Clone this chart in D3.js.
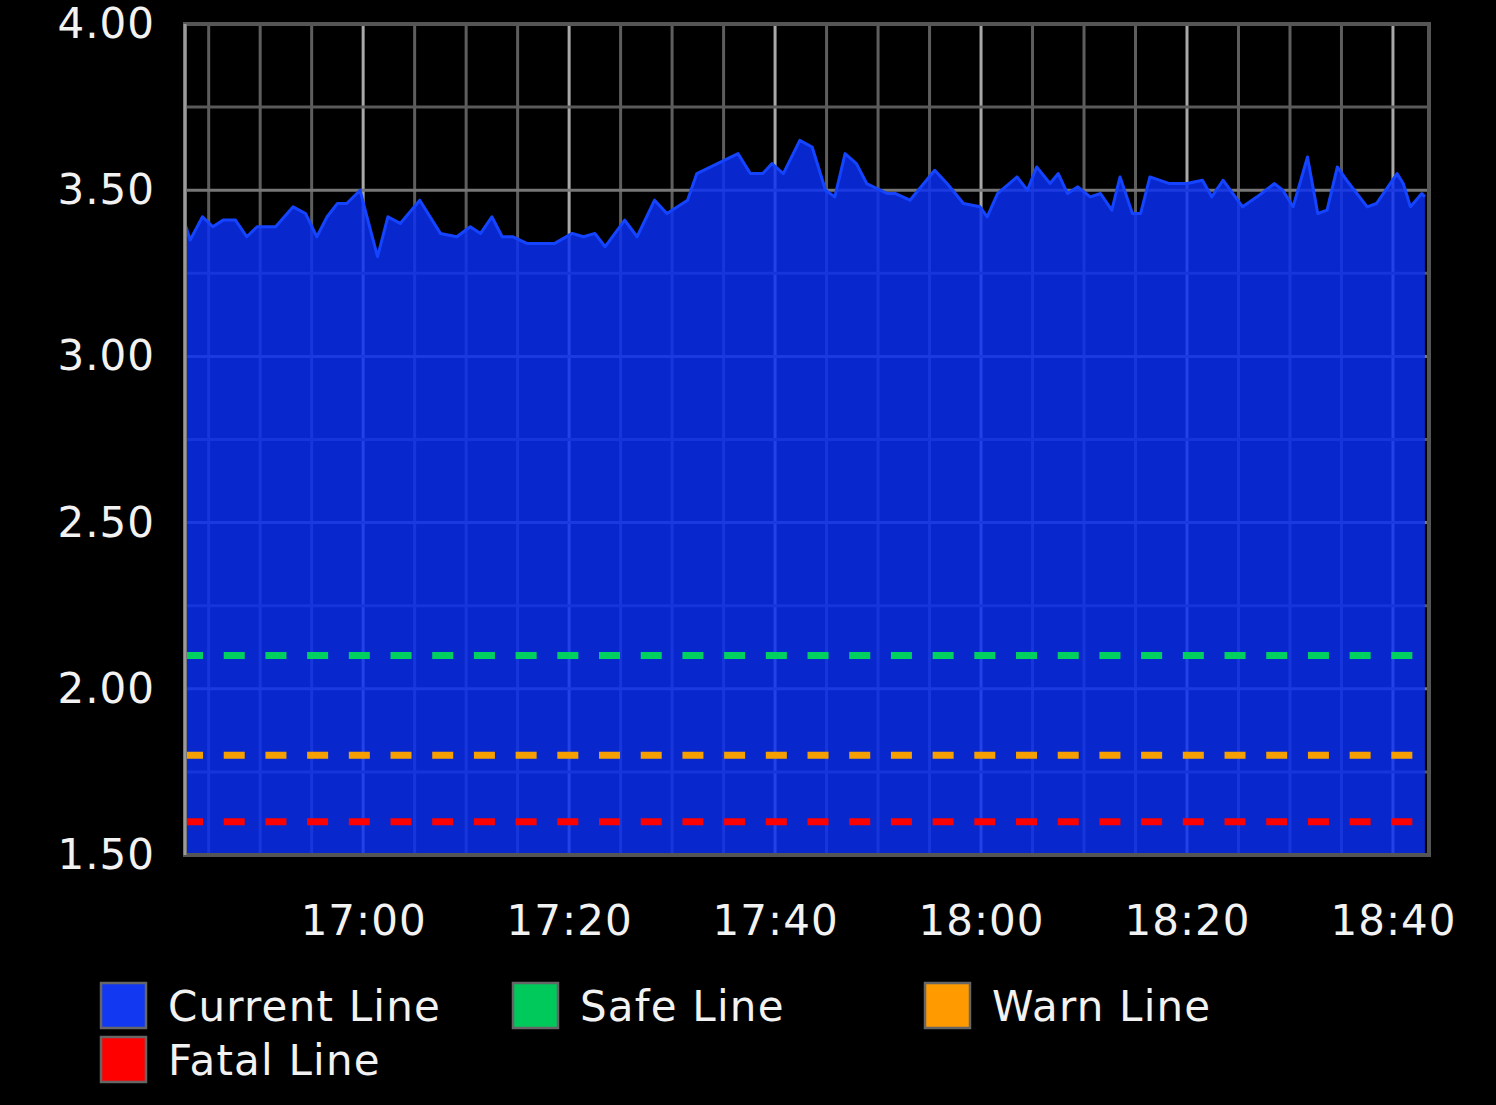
<!DOCTYPE html>
<html>
<head>
<meta charset="utf-8">
<script src="https://cdn.jsdelivr.net/npm/d3@7"></script>
<style>
  html, body { margin: 0; padding: 0; background: #000; }
  svg { display: block; font-family: "DejaVu Sans", sans-serif; }
</style>
</head>
<body>
<div id="chart"></div>
<script>
// sample times, minutes after 16:00
var minutes = [
  42.8, 43.2, 44.4, 45.4, 46.4, 47.6, 48.7, 49.7, 51.5, 53.2,
  54.4, 55.5, 56.5, 57.5, 58.4, 59.7, 60.2, 61.4, 62.4, 63.6,
  65.5, 67.5, 69.1, 70.4, 71.4, 72.5, 73.5, 74.5, 75.9, 78.6,
  80.3, 81.4, 82.5, 83.5, 85.4, 86.6, 88.3, 89.5, 91.5, 92.4,
  94.4, 96.4, 97.6, 98.8, 99.7, 100.8, 102.4, 103.6, 104.9, 105.8,
  106.8, 107.9, 108.9, 110.9, 111.7, 113.1, 115.5, 116.7, 118.3, 119.9,
  120.6, 121.6, 123.5, 124.5, 125.4, 126.7, 127.5, 128.4, 129.4, 130.6,
  131.6, 132.7, 133.5, 134.7, 135.5, 136.4, 138.3, 140.0, 141.5, 142.4,
  143.5, 145.4, 146.8, 148.5, 149.3, 150.3, 151.7, 152.7, 153.6, 154.6,
  155.5, 157.5, 158.4, 160.4, 161.0, 161.7, 162.8, 163.1
];

var currentValues = [
  3.39, 3.35, 3.42, 3.39, 3.41, 3.41, 3.36, 3.39, 3.39, 3.45,
  3.43, 3.36, 3.42, 3.46, 3.46, 3.50, 3.44, 3.30, 3.42, 3.40,
  3.47, 3.37, 3.36, 3.39, 3.37, 3.42, 3.36, 3.36, 3.34, 3.34,
  3.37, 3.36, 3.37, 3.33, 3.41, 3.36, 3.47, 3.43, 3.47, 3.55,
  3.58, 3.61, 3.55, 3.55, 3.58, 3.55, 3.65, 3.63, 3.50, 3.48,
  3.61, 3.58, 3.52, 3.49, 3.49, 3.47, 3.56, 3.52, 3.46, 3.45,
  3.42, 3.49, 3.54, 3.50, 3.57, 3.52, 3.55, 3.49, 3.51, 3.48,
  3.49, 3.44, 3.54, 3.43, 3.43, 3.54, 3.52, 3.52, 3.53, 3.48,
  3.53, 3.45, 3.48, 3.52, 3.50, 3.45, 3.60, 3.43, 3.44, 3.57,
  3.53, 3.45, 3.46, 3.55, 3.52, 3.45, 3.49, 3.48
];

var thresholdNames = ['Safe Line', 'Warn Line', 'Fatal Line'];
var thresholdValues = [2.10, 1.80, 1.60];
var thresholdColors = ['#00d060', '#f5a000', '#ff0000'];

var legendNames = ['Current Line', 'Safe Line', 'Warn Line', 'Fatal Line'];
var legendColors = ['#1238f2', '#00c95c', '#ff9a00', '#ff0000'];

var yTicks = [1.50, 2.00, 2.50, 3.00, 3.50, 4.00];
var yGrid = [1.50, 1.75, 2.00, 2.25, 2.50, 2.75, 3.00, 3.25, 3.50, 3.75, 4.00];
var timeDomain = [42.7, 163.5];

var base = new Date(2020, 0, 1, 16, 0, 0);
function toDate(m) { return new Date(base.getTime() + m * 60000); }

var width = 1496, height = 1105;
var plotLeft = 185, plotRight = 1429, plotTop = 24, plotBottom = 855;

var svg = d3.select('#chart').append('svg')
  .attr('width', width).attr('height', height);

svg.append('rect').attr('width', width).attr('height', height).attr('fill', '#000');

var x = d3.scaleTime().domain(timeDomain.map(toDate)).range([plotLeft, plotRight]);
var y = d3.scaleLinear().domain([1.5, 4.0]).range([plotBottom, plotTop]);

var data = minutes.map(function(m, i) { return { t: toDate(m), v: currentValues[i] }; });

// grid
var grid = svg.append('g');
var minorTimes = d3.timeMinute.every(5).range(x.domain()[0], x.domain()[1]);
grid.selectAll('line.v').data(minorTimes).enter().append('line')
  .attr('class', 'v')
  .attr('x1', function(d) { return x(d); }).attr('x2', function(d) { return x(d); })
  .attr('y1', plotTop).attr('y2', plotBottom)
  .attr('stroke', function(d) { return d.getMinutes() % 20 === 0 ? '#a8a8a8' : '#5e5e5e'; })
  .attr('stroke-width', 3);
grid.selectAll('line.h').data(yGrid).enter().append('line')
  .attr('class', 'h')
  .attr('x1', plotLeft).attr('x2', plotRight)
  .attr('y1', function(d) { return y(d); }).attr('y2', function(d) { return y(d); })
  .attr('stroke', function(d) { return Math.round(d * 100) % 50 === 0 ? '#767676' : '#5a5a5a'; })
  .attr('stroke-width', 3);

// current area
var area = d3.area()
  .x(function(d) { return x(d.t); })
  .y0(y(1.5))
  .y1(function(d) { return y(d.v); });
svg.append('path').datum(data)
  .attr('d', area)
  .attr('fill', '#0a30f4')
  .attr('fill-opacity', 0.84);

var line = d3.line()
  .x(function(d) { return x(d.t); })
  .y(function(d) { return y(d.v); });
svg.append('path').datum(data)
  .attr('d', line)
  .attr('fill', 'none')
  .attr('stroke', '#1444ff')
  .attr('stroke-width', 3)
  .attr('stroke-linejoin', 'round');

// threshold lines
var t0 = data[0].t, t1 = data[data.length - 1].t;
svg.selectAll('line.threshold').data(thresholdValues).enter().append('line')
  .attr('class', 'threshold')
  .attr('x1', x(t0)).attr('x2', x(t1))
  .attr('y1', function(d) { return y(d); }).attr('y2', function(d) { return y(d); })
  .attr('stroke', function(d, i) { return thresholdColors[i]; })
  .attr('stroke-width', 7)
  .attr('stroke-dasharray', '21,20.7')
  .attr('stroke-dashoffset', 4);

// frame
svg.append('rect')
  .attr('x', plotLeft).attr('y', plotTop)
  .attr('width', plotRight - plotLeft).attr('height', plotBottom - plotTop)
  .attr('fill', 'none').attr('stroke', '#555').attr('stroke-width', 4);
svg.append('line')
  .attr('x1', plotLeft).attr('x2', plotLeft).attr('y1', plotTop).attr('y2', plotBottom)
  .attr('stroke', '#9a9a9a').attr('stroke-width', 3);

// axes
var xAxis = d3.axisBottom(x)
  .ticks(d3.timeMinute.every(20))
  .tickFormat(d3.timeFormat('%H:%M'))
  .tickSize(0).tickPadding(50);
var gx = svg.append('g').attr('transform', 'translate(0,' + plotBottom + ')').call(xAxis);

var yAxis = d3.axisLeft(y)
  .tickValues(yTicks)
  .tickFormat(d3.format('.2f'))
  .tickSize(0).tickPadding(30);
var gy = svg.append('g').attr('transform', 'translate(' + plotLeft + ',0)').call(yAxis);

[gx, gy].forEach(function(g) {
  g.select('.domain').remove();
  g.selectAll('text')
    .attr('fill', '#f2f2f2')
    .style('font-size', '42px')
    .style('font-family', '"DejaVu Sans", sans-serif')
    .style('letter-spacing', '1px');
});

// legend
var legend = svg.append('g');
var items = legend.selectAll('g').data(legendNames).enter().append('g')
  .attr('transform', function(d, i) {
    return 'translate(' + (101 + (i % 3) * 412) + ',' + (983 + Math.floor(i / 3) * 54) + ')';
  });
items.append('rect')
  .attr('width', 45).attr('height', 45)
  .attr('fill', function(d, i) { return legendColors[i]; })
  .attr('stroke', '#666').attr('stroke-width', 2.5);
items.append('text')
  .attr('x', 67).attr('y', 23).attr('dy', '0.36em')
  .attr('fill', '#f2f2f2')
  .style('font-size', '42px')
  .style('letter-spacing', '1.2px')
  .text(function(d) { return d; });
</script>
</body>
</html>
